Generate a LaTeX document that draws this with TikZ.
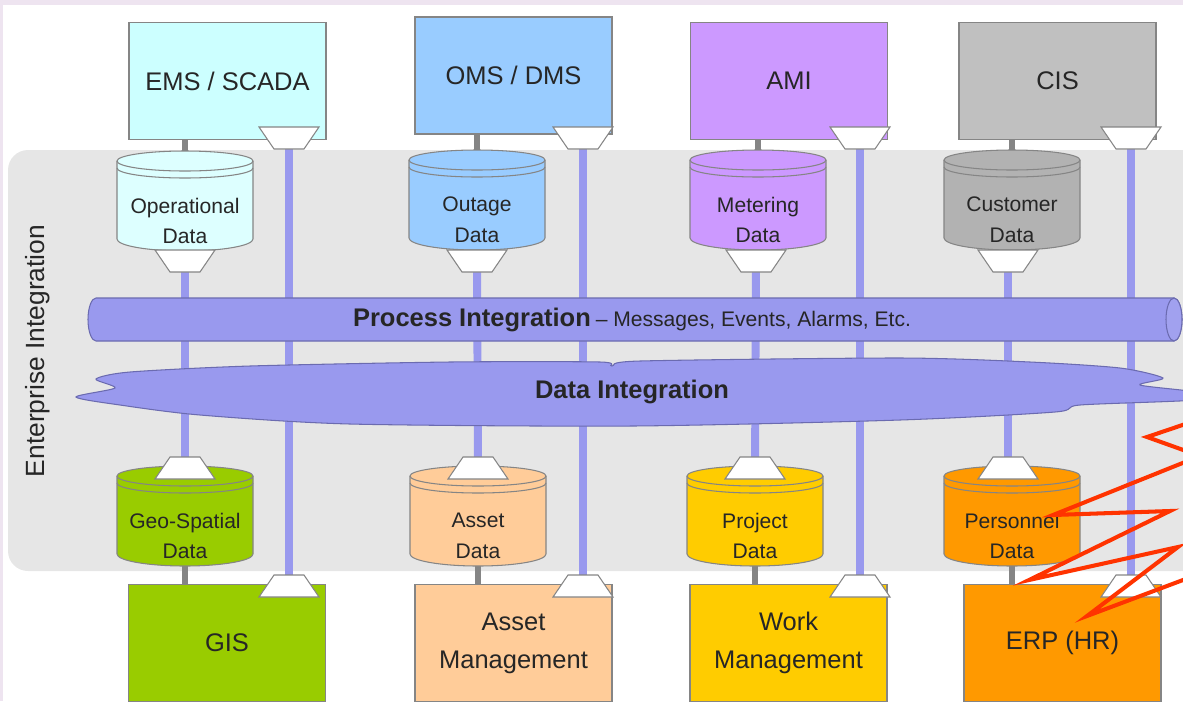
\documentclass[tikz,border=0pt]{standalone}
\usepackage{fontspec}
\setmainfont{Liberation Sans}

\definecolor{bus}{HTML}{9999EE}
\definecolor{busline}{HTML}{6B6BB0}
\definecolor{panel}{HTML}{E6E6E6}
\definecolor{edge}{HTML}{858585}
\definecolor{ink}{HTML}{262626}
\definecolor{frame}{HTML}{EEE4F0}
\definecolor{zigzag}{HTML}{FF3300}
\definecolor{cEMS}{HTML}{CCFFFF}
\definecolor{cOPD}{HTML}{DDFFFF}
\definecolor{cOMS}{HTML}{99CCFF}
\definecolor{cAMI}{HTML}{CC99FF}
\definecolor{cCIS}{HTML}{C0C0C0}
\definecolor{cCUS}{HTML}{B2B2B2}
\definecolor{cGIS}{HTML}{99CC00}
\definecolor{cAST}{HTML}{FFCC99}
\definecolor{cWRK}{HTML}{FFCC00}
\definecolor{cERP}{HTML}{FF9900}

\pgfdeclarelayer{panel}
\pgfdeclarelayer{wires}
\pgfsetlayers{panel,wires,main}

% cilindro de datos: nombre, x, y superior, color, texto
\newcommand{\datastore}[5]{%
  \filldraw[fill=#4, draw=edge, line width=0.6pt] (#2-68,#3+10) -- (#2-68,#3+88) arc(180:0:68 and 12) -- (#2+68,#3+10) arc(360:180:68 and 10) -- cycle;
  \draw[edge, line width=0.6pt] (#2-68,#3+10) arc(180:0:68 and 10);
  \draw[edge, line width=0.6pt] (#2-68,#3+17) arc(180:0:68 and 10);
  \coordinate (#1-top) at (#2,#3);
  \coordinate (#1-bot) at (#2,#3+100);
  \node[storelabel] (#1) at (#2,#3+70) {#5};
}
% puerto ancho arriba: nombre, x, y
\newcommand{\portout}[3]{%
  \filldraw[portline] (#2-30,#3-11) -- (#2+30,#3-11) -- (#2+15,#3+11) -- (#2-15,#3+11) -- cycle;
  \coordinate (#1) at (#2,#3);
}
% puerto ancho abajo: nombre, x, y
\newcommand{\portin}[3]{%
  \filldraw[portline] (#2-15,#3-11) -- (#2+15,#3-11) -- (#2+30,#3+11) -- (#2-30,#3+11) -- cycle;
  \coordinate (#1) at (#2,#3);
}

\begin{document}
\begin{tikzpicture}[x=0.02cm, y=-0.02cm,
    sysbox/.style={draw=edge, line width=0.7pt, minimum width=3.94cm, minimum height=2.34cm,
      inner sep=0pt, align=center, text=ink, font=\fontsize{14.5}{21.5}\selectfont},
    storelabel/.style={align=center, text=ink, inner sep=0pt, font=\fontsize{12}{17.5}\selectfont},
    portline/.style={fill=white, draw=edge, line width=0.6pt},
    wire/.style={draw=bus, line width=4.5pt},
    stub/.style={draw=edge, line width=3.4pt},
    busfill/.style={fill=bus, draw=busline, line width=0.6pt}]
  \useasboundingbox (0,0) rectangle (1183,701);
  \clip (0,0) rectangle (1183,701);

  % Fondo
  \begin{pgfonlayer}{panel}
    \fill[frame] (0,0) rectangle (1183,5);
    \fill[frame] (0,0) rectangle (3,701);
    \fill[panel, rounded corners=0.4cm] (8,150) rectangle (1240,571);
  \end{pgfonlayer}
  \node[rotate=90, text=ink, font=\fontsize{15}{18}\selectfont] (entlabel) at (38,351) {Enterprise Integration};

  % Bus de procesos y nube de datos
  \filldraw[busfill] (1174,298) -- (96,298) arc(270:90:8 and 21.5) -- (1174,341) arc(90:-90:8 and 21.5) -- cycle;
  \filldraw[busfill, fill=bus!92!white] (1174,319.5) ellipse[x radius=8, y radius=21.5];
  \node[text=ink] (procbus) at (632,319.5) {{\fontsize{14.5}{17}\selectfont\bfseries Process Integration} {\fontsize{12}{14}\selectfont -- Messages, Events, Alarms, Etc.}};
  \filldraw[busfill] plot[smooth cycle, tension=0.45] coordinates {
    (76,397) (115,388) (96,379) (130,372) (250,366) (450,362) (600,362) (612,366) (640,361)
    (900,358) (1030,362) (1120,368) (1163,378) (1140,385) (1195,392) (1195,400) (1080,405)
    (1055,412) (900,420) (632,426) (350,424) (200,415) (120,405)};
  \node[text=ink, font=\fontsize{14.5}{17}\selectfont\bfseries] (datainteg) at (632,392) {Data Integration};

  % Sistemas
  \node[sysbox, fill=cEMS] (ems) at (227.5,81) {EMS / SCADA};
  \node[sysbox, fill=cOMS] (oms) at (513.5,75.5) {OMS / DMS};
  \node[sysbox, fill=cAMI] (ami) at (789,81) {AMI};
  \node[sysbox, fill=cCIS] (cis) at (1057.5,81) {CIS};
  \node[sysbox, fill=cGIS] (gis) at (227,643) {GIS};
  \node[sysbox, fill=cAST] (assetmgmt) at (513.5,643) {Asset\\Management};
  \node[sysbox, fill=cWRK] (workmgmt) at (788.5,643) {Work\\Management};
  \node[sysbox, fill=cERP] (erp) at (1062.5,643) {ERP (HR)};

  % Almacenes de datos
  \datastore{opdata}{185}{151}{cOPD}{Operational\\Data}
  \datastore{outdata}{477}{150}{cOMS}{Outage\\Data}
  \datastore{metdata}{758}{150}{cAMI}{Metering\\Data}
  \datastore{cusdata}{1012}{150}{cCUS}{Customer\\Data}
  \datastore{geodata}{185}{466}{cGIS}{Geo-Spatial\\Data}
  \datastore{astdata}{478}{466}{cAST}{Asset\\Data}
  \datastore{prjdata}{755}{466}{cWRK}{Project\\Data}
  \datastore{perdata}{1012}{466}{cERP}{Personnel\\Data}

  % Puertos
  \portout{emsport}{289}{138}
  \portout{omsport}{583}{138}
  \portout{amiport}{860}{138}
  \portout{cisport}{1131}{138}
  \portin{gisport}{289}{586}
  \portin{amport}{583}{586}
  \portin{wmport}{860}{586}
  \portin{erpport}{1131}{586}
  \portout{opport}{185}{261}
  \portout{outport}{477}{261}
  \portout{metport}{756}{261}
  \portout{cusport}{1008}{261}
  \portin{geoport}{185}{468}
  \portin{astport}{478}{468}
  \portin{prjport}{755}{468}
  \portin{perport}{1008}{468}

  % Conexiones
  \begin{pgfonlayer}{wires}
    \draw[wire] (emsport) -- (gisport);
    \draw[wire] (omsport) -- (amport);
    \draw[wire] (amiport) -- (wmport);
    \draw[wire] (cisport) -- (erpport);
    \draw[wire] (opport) -- (geoport);
    \draw[wire] (outport) -- (astport);
    \draw[wire] (metport) -- (prjport);
    \draw[wire] (cusport) -- (perport);
    \draw[stub] (opdata-top |- ems.south) -- (opdata-top);
    \draw[stub] (outdata-top |- oms.south) -- (outdata-top);
    \draw[stub] (metdata-top |- ami.south) -- (metdata-top);
    \draw[stub] (cusdata-top |- cis.south) -- (cusdata-top);
    \draw[stub] (geodata-bot) -- (geodata-bot |- gis.north);
    \draw[stub] (astdata-bot) -- (astdata-bot |- assetmgmt.north);
    \draw[stub] (prjdata-bot) -- (prjdata-bot |- workmgmt.north);
    \draw[stub] (perdata-bot) -- (perdata-bot |- erp.north);
  \end{pgfonlayer}

  % Rayo
  \draw[zigzag, line width=2.3pt, miter limit=20] (1215,414) -- (1147,437) -- (1200,456) -- (1053,515)
    -- (1170,511) -- (1029,580) -- (1178,547) -- (1087,616) -- (1215,568);
\end{tikzpicture}
\end{document}
